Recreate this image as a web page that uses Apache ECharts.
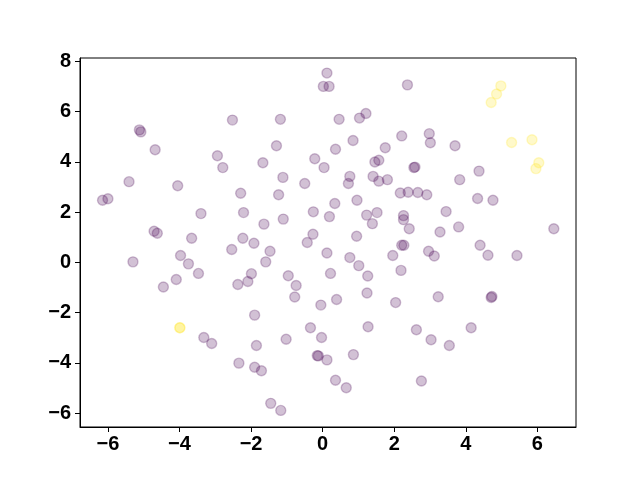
<!DOCTYPE html>
<html>
<head>
<meta charset="utf-8">
<script src="https://cdn.jsdelivr.net/npm/echarts@6/dist/echarts.min.js"></script>
<style>html,body{margin:0;padding:0;background:#fff;}#c{width:640px;height:480px;}</style>
</head>
<body>
<div id="c"></div>
<script>
var xTicks = [-6, -4, -2, 0, 2, 4, 6];
var yTicks = [-6, -4, -2, 0, 2, 4, 6, 8];

var purplePoints = [
  [-2.52, 5.66], [-5.12, 5.27], [-5.08, 5.19], [-4.68, 4.48], [-2.94, 4.24], [-2.79, 3.77],
  [-5.41, 3.21], [-4.05, 3.05], [-2.29, 2.75], [-6.15, 2.47], [-6.00, 2.53], [-3.40, 1.94],
  [-2.21, 1.98], [-4.71, 1.24], [-4.62, 1.16], [-3.66, 0.96], [-2.23, 0.96], [-5.30, 0.02],
  [-3.97, 0.27], [-3.75, -0.06], [-2.54, 0.51], [-3.47, -0.44], [-4.09, -0.68], [-4.45, -0.98],
  [-2.37, -0.88], [-2.09, -0.76], [-1.99, -0.45], [-3.32, -2.99], [-3.10, -3.23], [-2.34, -4.01],
  [-1.92, 0.76], [-0.27, 1.12], [-0.43, 0.79], [0.95, 1.04], [-1.47, 0.44], [-1.59, 0.02],
  [0.12, 0.37], [0.76, 0.19], [1.01, -0.13], [1.26, -0.54], [0.22, -0.44], [-0.96, -0.53],
  [-0.74, -0.92], [-0.78, -1.38], [-0.05, -1.70], [0.39, -1.48], [1.24, -1.22], [1.27, -2.56],
  [1.96, 0.27], [2.21, 0.68], [2.27, 0.68], [2.19, -0.32], [2.04, -1.60], [-1.90, -2.10],
  [-1.85, -3.31], [-1.90, -4.17], [-1.71, -4.31], [-1.02, -3.06], [-0.34, -2.60], [-0.03, -2.99],
  [-0.15, -3.71], [-0.12, -3.72], [0.12, -3.88], [0.86, -3.67], [0.36, -4.69], [0.66, -4.99],
  [-1.45, -5.61], [-1.17, -5.89], [4.40, 0.68], [2.96, 0.44], [3.12, 0.25], [4.62, 0.28],
  [5.43, 0.27], [3.23, -1.37], [4.73, -1.36], [4.71, -1.40], [2.62, -2.68], [3.03, -3.08],
  [3.54, -3.31], [4.15, -2.60], [2.76, -4.72], [2.37, 7.06], [2.21, 5.03], [2.98, 5.12],
  [3.01, 4.76], [3.70, 4.64], [2.55, 3.77], [2.58, 3.79], [4.37, 3.63], [3.83, 3.29],
  [2.17, 2.76], [2.39, 2.79], [2.66, 2.78], [2.91, 2.69], [4.33, 2.54], [4.76, 2.47],
  [3.45, 2.02], [2.26, 1.86], [2.26, 1.70], [2.42, 1.34], [3.28, 1.21], [3.80, 1.41],
  [6.46, 1.34], [0.12, 7.53], [0.02, 7.00], [0.18, 7.00], [-1.18, 5.69], [0.46, 5.69],
  [1.03, 5.74], [1.21, 5.92], [-1.29, 4.64], [0.85, 4.85], [1.75, 4.56], [-1.67, 3.96],
  [-0.22, 4.12], [0.36, 4.50], [0.04, 3.77], [1.46, 3.99], [1.57, 4.06], [-1.11, 3.38],
  [-0.50, 3.14], [0.76, 3.42], [0.72, 3.14], [1.41, 3.42], [1.57, 3.23], [1.81, 3.29],
  [-1.23, 2.69], [-0.26, 2.01], [-1.10, 1.72], [-1.64, 1.52], [0.19, 1.82], [0.34, 2.34],
  [0.96, 2.47], [1.23, 1.88], [1.52, 1.98], [1.39, 1.54]
];

var yellowPoints = [
  [-3.99, -2.60], [-3.99, -2.60], [4.98, 7.02], [4.86, 6.70], [4.71, 6.36],
  [5.28, 4.77], [5.85, 4.88], [6.04, 3.96], [5.96, 3.73]
];

var purple = 'rgba(68,1,84,0.3)';
var yellow = 'rgba(253,231,37,0.3)';
var labelFont = { color: '#000', fontFamily: 'Liberation Sans', fontWeight: 'bold', fontSize: 20 };

var chart = echarts.init(document.getElementById('c'), null, { renderer: 'canvas' });
chart.setOption({
  animation: false,
  backgroundColor: '#fff',
  grid: { left: 80, right: 64, top: 58, bottom: 53, show: true, borderColor: '#000', borderWidth: 1, backgroundColor: 'transparent' },
  xAxis: {
    type: 'value', min: -6.78, max: 7.08,
    splitLine: { show: false },
    axisLine: { show: true, onZero: false, lineStyle: { color: '#000', width: 1 } },
    axisTick: { show: true, inside: false, length: 5, customValues: xTicks, lineStyle: { color: '#000' } },
    axisLabel: Object.assign({ margin: 7, customValues: xTicks, formatter: function (v) { return v < 0 ? '\u2212' + Math.abs(v) : String(v); } }, labelFont)
  },
  yAxis: {
    type: 'value', min: -6.55, max: 8.13,
    splitLine: { show: false },
    axisLine: { show: true, onZero: false, lineStyle: { color: '#000', width: 1 } },
    axisTick: { show: true, inside: false, length: 5, customValues: yTicks, lineStyle: { color: '#000' } },
    axisLabel: Object.assign({ margin: 9, customValues: yTicks, formatter: function (v) { return v < 0 ? '\u2212' + Math.abs(v) : String(v); } }, labelFont)
  },
  series: [
    {
      type: 'scatter', data: purplePoints, symbolSize: 10,
      itemStyle: { color: purple, borderColor: purple, borderWidth: 1.4 },
      emphasis: { disabled: true }
    },
    {
      type: 'scatter', data: yellowPoints, symbolSize: 10,
      itemStyle: { color: yellow, borderColor: yellow, borderWidth: 1.4 },
      emphasis: { disabled: true }
    }
  ]
});
</script>
</body>
</html>
